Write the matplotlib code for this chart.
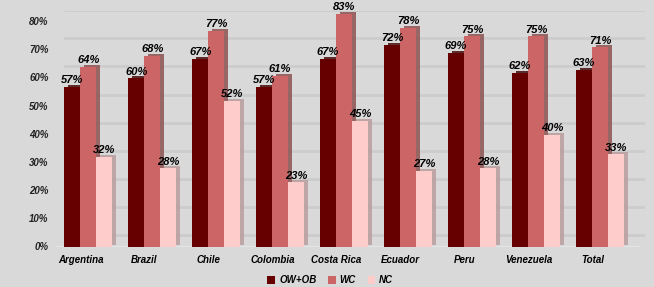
import numpy as np
import matplotlib.pyplot as plt
import matplotlib.transforms as mtransforms
from matplotlib.patches import Patch

countries = ['Argentina', 'Brazil', 'Chile', 'Colombia', 'Costa Rica',
             'Ecuador', 'Peru', 'Venezuela', 'Total']
ow_ob = [57, 60, 67, 57, 67, 72, 69, 62, 63]
wc = [64, 68, 77, 61, 83, 78, 75, 75, 71]
nc = [32, 28, 52, 23, 45, 27, 28, 40, 33]

series = [('OW+OB', ow_ob, '#660000', '#3d0000'),
          ('WC', wc, '#cc6666', '#8a4a4a'),
          ('NC', nc, '#ffcccc', '#b89a9a')]

bg = '#d9d9d9'
plt.rcParams['font.family'] = ['Liberation Sans', 'DejaVu Sans']

fig = plt.figure(figsize=(6.54, 2.87), dpi=100)
fig.patch.set_facecolor(bg)
ax = fig.add_axes([0.084, 0.139, 0.902, 0.823])
ax.set_facecolor(bg)
ax.set_xlim(-0.52, 8.7)
ax.set_ylim(0, 84)
for s in ax.spines.values():
    s.set_visible(False)

# back-wall gridlines, shifted up/right like the 3D chart
shift = mtransforms.offset_copy(ax.transData, fig=fig, x=6, y=12, units='dots')
for g in range(0, 90, 10):
    ax.plot([-0.45, 8.6], [g, g], color='#cccccc', lw=2, transform=shift, zorder=0)
    ax.text(-0.62, g, f'{g}%', ha='right', va='center', fontsize=7,
            fontweight='bold', fontstyle='italic', color='#222222')
# floor
ax.plot([-0.52, 8.6], [0, 0], color='#e6e6e6', lw=2, zorder=0)

x = np.arange(len(countries))
w = 0.25
side = mtransforms.offset_copy(ax.transData, fig=fig, x=4, y=2, units='dots')
for k, (name, vals, col, dark) in enumerate(series):
    pos = x + (k - 1) * w
    ax.bar(pos, vals, width=w, color=dark, transform=side, zorder=2 + k * 2, alpha=0.8)
    ax.bar(pos, vals, width=w, color=col, zorder=3 + k * 2, label=name)
    for p, v in zip(pos, vals):
        ax.text(p, v + 0.6, f'{v}%', ha='center', va='bottom', fontsize=8,
                fontweight='bold', fontstyle='italic', color='black', zorder=10)

ax.set_xticks(x - 0.12)
ax.set_xticklabels(countries, fontsize=7, fontweight='bold', fontstyle='italic')
ax.tick_params(axis='x', length=0, pad=6)
ax.set_yticks([])

handles = [Patch(facecolor=c, label=n) for n, _, c, _ in series]
fig.legend(handles=handles, loc='lower center', bbox_to_anchor=(0.505, -0.025),
           ncol=3, frameon=False, handlelength=0.8, handleheight=0.8,
           handletextpad=0.4, columnspacing=1.2,
           prop={'size': 7, 'weight': 'bold', 'style': 'italic'})

fig.savefig('out.png', dpi=100, facecolor=bg)
